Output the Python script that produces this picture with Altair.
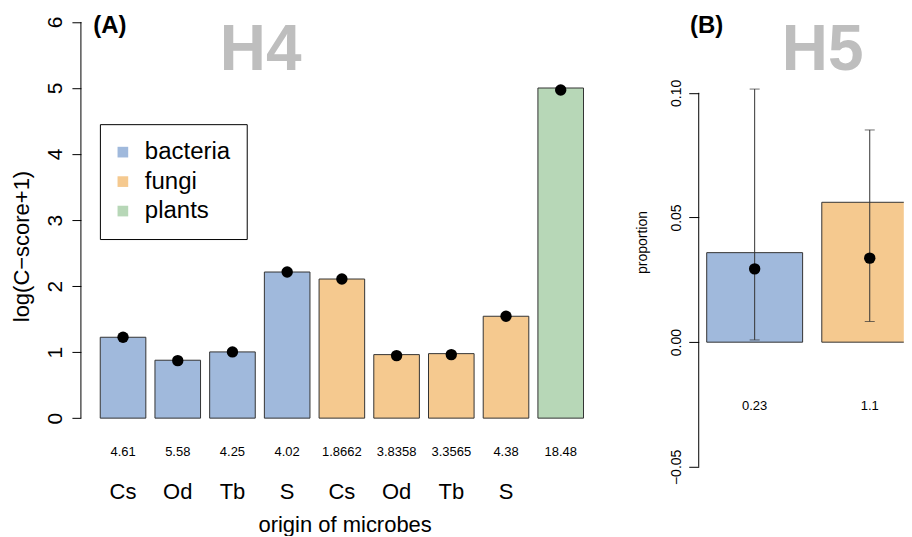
import altair as alt
import pandas as pd

FONT = "Liberation Sans"

# ---------------- data ----------------
group_names = ["bacteria", "fungi", "plants"]
group_colors = ["#A0B9DC", "#F5C98F", "#B7D7B7"]

# Panel A (H4)
groups_a = ["bacteria", "bacteria", "bacteria", "bacteria", "fungi", "fungi", "fungi", "fungi", "plants"]
origins_a = ["Cs", "Od", "Tb", "S", "Cs", "Od", "Tb", "S", ""]
bars_a = [1.225, 0.877, 1.003, 2.213, 2.107, 0.962, 0.977, 1.543, 5.00]
dots_a = [1.225, 0.871, 1.003, 2.213, 2.107, 0.947, 0.962, 1.543, 4.97]
labels_a = ["4.61", "5.58", "4.25", "4.02", "1.8662", "3.8358", "3.3565", "4.38", "18.48"]
yticks_a = [0, 1, 2, 3, 4, 5, 6]

# Panel B (H5)
groups_b = ["bacteria", "fungi"]
bars_b = [0.0359, 0.0561]
dots_b = [0.0294, 0.0337]
lower_b = [0.0009, 0.0083]
upper_b = [0.1015, 0.0851]
labels_b = ["0.23", "1.1"]
yticks_b = [-0.05, 0.0, 0.05, 0.10]

# ---------------- tables ----------------
keys_a = [f"{g}:{o}" for g, o in zip(groups_a, origins_a)]
df_a = pd.DataFrame({"key": keys_a, "group": groups_a, "bar": bars_a,
                     "dot": dots_a, "num": labels_a})
df_b = pd.DataFrame({"group": groups_b, "bar": bars_b, "dot": dots_b,
                     "lower": lower_b, "upper": upper_b, "num": labels_b})
axis_a = pd.DataFrame({"lo": [min(yticks_a)], "hi": [max(yticks_a)]})
axis_b = pd.DataFrame({"lo": [min(yticks_b)], "hi": [max(yticks_b)]})

legend = alt.Legend(title=None, orient="none", legendX=19, legendY=116,
                    symbolType="square", symbolSize=114, symbolStrokeWidth=0,
                    symbolOffset=-5,
                    labelFontSize=24, labelFont=FONT, labelColor="black",
                    padding=16, rowPadding=5.5, labelOffset=10,
                    strokeColor="black", fillColor="white", cornerRadius=0)
color_scale = alt.Scale(domain=group_names, range=group_colors)

# ---------------- panel A ----------------
W_A, H_A = 522.5, 410.3
xs_a = alt.Scale(domain=keys_a, paddingInner=0.1667, paddingOuter=0.3533)
ys_a = alt.Scale(domain=[0, 6.2073], nice=False, zero=False)

x_axis_a = alt.Axis(title="origin of microbes", labelExpr="split(datum.value, ':')[1]",
                    labelAngle=0, labelFontSize=22, labelFont=FONT, labelColor="black",
                    labelBaseline="alphabetic", labelPadding=80.7, labelOverlap=False,
                    ticks=False, tickSize=0, domain=False,
                    titleFontSize=22, titleFont=FONT, titleFontWeight="normal", titleColor="black",
                    titleX=264, titleY=113, titleBaseline="alphabetic", titleAlign="center")
y_axis_a = alt.Axis(values=yticks_a, title="log(C−score+1)", domain=False, grid=False,
                    tickSize=9, tickColor="black", labelAngle=270, labelAlign="center",
                    labelBaseline="alphabetic", labelPadding=10, labelFontSize=21,
                    labelFont=FONT, labelColor="black",
                    titleFontSize=22, titleFont=FONT, titleFontWeight="normal", titleColor="black",
                    titleX=-59, titleY=238, titleAngle=270, titleBaseline="middle", titleAlign="center")

XA = dict(scale=xs_a, axis=x_axis_a)
YA = dict(scale=ys_a, axis=y_axis_a)

base_a = alt.Chart(df_a)
bars_A = base_a.mark_bar(stroke="#333333", strokeWidth=1).encode(
    x=alt.X("key:N", **XA),
    y=alt.Y("bar:Q", **YA),
    color=alt.Color("group:N", scale=color_scale, legend=legend),
)
dots_A = base_a.mark_circle(size=130, color="black", opacity=1).encode(
    x=alt.X("key:N", **XA),
    y=alt.Y("dot:Q", **YA),
)
nums_A = base_a.mark_text(fontSize=13, font=FONT, baseline="alphabetic", color="black").encode(
    x=alt.X("key:N", **XA),
    y=alt.value(448.7),
    text="num:N",
)
yline_A = alt.Chart(axis_a).mark_rule(color="black", strokeWidth=1).encode(
    x=alt.value(0),
    y=alt.Y("lo:Q", **YA),
    y2="hi:Q",
)
tagA = alt.Chart(pd.DataFrame({"t": ["(A)"]})).mark_text(
    fontSize=24, fontWeight="bold", font=FONT, baseline="alphabetic", align="center", color="black"
).encode(text="t:N", x=alt.value(29), y=alt.value(25))
hA = alt.Chart(pd.DataFrame({"t": ["H4"]})).mark_text(
    fontSize=64, fontWeight="bold", font=FONT, baseline="alphabetic", align="center", color="#BEBEBE"
).encode(text="t:N", x=alt.value(180), y=alt.value(62))

panel_a = alt.layer(bars_A, yline_A, dots_A, nums_A, tagA, hA).properties(width=W_A, height=H_A)

# ---------------- panel B ----------------
W_B, H_B = 205.3, 467
xs_b = alt.Scale(domain=groups_b, range=[0, 227.2], paddingInner=0.1667, paddingOuter=0.0694)
ys_b = alt.Scale(domain=[-0.05317, 0.13389], nice=False, zero=False)

y_axis_b = alt.Axis(values=yticks_b, format=".2f", title="proportion", domain=False, grid=False,
                    tickSize=10, tickColor="black", labelAngle=270, labelAlign="center",
                    labelBaseline="alphabetic", labelPadding=8.7, labelFontSize=14,
                    labelFont=FONT, labelColor="black",
                    titleFontSize=14, titleFont=FONT, titleFontWeight="normal", titleColor="black",
                    titleX=-56.7, titleY=234, titleAngle=270, titleBaseline="middle", titleAlign="center")

XB = dict(scale=xs_b, axis=None)
YB = dict(scale=ys_b, axis=y_axis_b)

base_b = alt.Chart(df_b)
bars_B = base_b.mark_bar(stroke="#333333", strokeWidth=1, clip=True).encode(
    x=alt.X("group:N", **XB),
    y=alt.Y("bar:Q", **YB),
    color=alt.Color("group:N", scale=color_scale, legend=legend),
)
err_B = base_b.mark_rule(color="#333333", strokeWidth=1).encode(
    x=alt.X("group:N", **XB),
    y=alt.Y("lower:Q", **YB),
    y2="upper:Q",
)
capU_B = base_b.mark_tick(color="#333333", thickness=1, size=10).encode(
    x=alt.X("group:N", **XB),
    y=alt.Y("upper:Q", **YB),
)
capL_B = base_b.mark_tick(color="#333333", thickness=1, size=10).encode(
    x=alt.X("group:N", **XB),
    y=alt.Y("lower:Q", **YB),
)
dots_B = base_b.mark_circle(size=130, color="black", opacity=1).encode(
    x=alt.X("group:N", **XB),
    y=alt.Y("dot:Q", **YB),
)
nums_B = base_b.mark_text(fontSize=13, font=FONT, baseline="alphabetic", color="black").encode(
    x=alt.X("group:N", **XB),
    y=alt.value(402),
    text="num:N",
)
yline_B = alt.Chart(axis_b).mark_rule(color="black", strokeWidth=1).encode(
    x=alt.value(0),
    y=alt.Y("lo:Q", **YB),
    y2="hi:Q",
)
tagB = alt.Chart(pd.DataFrame({"t": ["(B)"]})).mark_text(
    fontSize=24, fontWeight="bold", font=FONT, baseline="alphabetic", align="center", color="black"
).encode(text="t:N", x=alt.value(8), y=alt.value(25))
hB = alt.Chart(pd.DataFrame({"t": ["H5"]})).mark_text(
    fontSize=64, fontWeight="bold", font=FONT, baseline="alphabetic", align="center", color="#BEBEBE"
).encode(text="t:N", x=alt.value(124), y=alt.value(62))

panel_b = alt.layer(bars_B, err_B, capU_B, capL_B, dots_B, nums_B, yline_B, tagB, hB).properties(
    width=W_B, height=H_B)

chart = alt.hconcat(panel_a, panel_b, spacing=31.5).configure(
    padding={"left": 3, "top": 0, "right": 0, "bottom": 0}, font=FONT
).configure_view(stroke=None).configure_axis(grid=False)

chart.save("out.html", embed_options={"renderer": "svg", "actions": False})
